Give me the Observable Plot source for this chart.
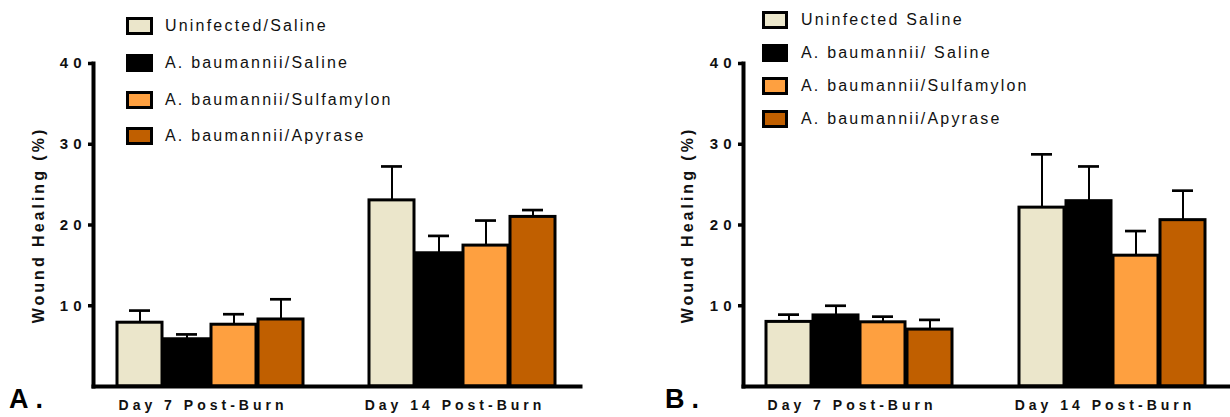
<!DOCTYPE html>
<html>
<head>
<meta charset="utf-8">
<script src="https://cdn.jsdelivr.net/npm/d3@7"></script>
<script src="https://cdn.jsdelivr.net/npm/@observablehq/plot@0.6"></script>
<style>
  body { margin: 0; background: #fff; font-family: "Liberation Sans", Arial, sans-serif; }
  #wrap { position: relative; width: 1230px; height: 417px; overflow: hidden; background: #fff; }
  .panel { position: absolute; top: 0; height: 417px; }
  .panel svg { font-family: "Liberation Sans", Arial, sans-serif; overflow: visible; }
  g[aria-label="y-axis tick label"] text { font-size: 15px; font-weight: bold; letter-spacing: 5px; fill: #111; }
  g[aria-label="y-axis label"] text { font-size: 16px; font-weight: bold; letter-spacing: 3px; fill: #111; }
  g[aria-label="fx-axis tick label"] text { font-size: 14px; font-weight: bold; letter-spacing: 4px; fill: #111; }
  .item { position: absolute; display: flex; align-items: center; white-space: nowrap; height: 18px; }
  .sw { box-sizing: border-box; border: 3px solid #000; height: 18px; }
  .lbl { font-size: 16px; letter-spacing: 2.2px; color: #111; line-height: 18px; }
  .tag { position: absolute; font-weight: bold; font-size: 27px; letter-spacing: 7px; line-height: 27px; color: #000; }
</style>
</head>
<body>
<div id="wrap"></div>
<script>
// ---- data ----
const groups = ["Day 7 Post-Burn", "Day 14 Post-Burn"];
const seriesA = ["Uninfected/Saline", "A. baumannii/Saline", "A. baumannii/Sulfamylon", "A. baumannii/Apyrase"];
const seriesB = ["Uninfected Saline", "A. baumannii/ Saline", "A. baumannii/Sulfamylon", "A. baumannii/Apyrase"];
const colors = ["#ebe6cb", "#000000", "#fea040", "#c05f00"];

const meanA7  = [7.9, 5.85, 7.65, 8.3];
const errA7   = [1.5, 0.6, 1.3, 2.5];
const meanA14 = [23.05, 16.5, 17.45, 21.0];
const errA14  = [4.2, 2.15, 3.1, 0.85];

const meanB7  = [8.0, 8.8, 7.95, 7.05];
const errB7   = [0.9, 1.2, 0.7, 1.2];
const meanB14 = [22.15, 22.95, 16.2, 20.6];
const errB14  = [6.6, 4.3, 3.05, 3.65];

const yTicks = [10, 20, 30, 40];

function rows(series, m7, e7, m14, e14) {
  const out = [];
  [[m7, e7], [m14, e14]].forEach(([m, e], gi) =>
    m.forEach((v, i) => out.push({group: groups[gi], series: series[i], value: v, err: e[i]})));
  return out;
}

function panel({series, data, width, marginLeft, marginRight, pIn, xOuter, labelOffset, labelDx}) {
  return Plot.plot({
    width, height: 417,
    marginLeft, marginRight, marginTop: 63, marginBottom: 31,
    fx: {domain: groups, paddingInner: pIn, paddingOuter: 0, label: null, axis: null},
    x: {domain: series, axis: null, paddingInner: 0.04, paddingOuter: xOuter},
    y: {domain: [0, 40], axis: null},
    color: {domain: series, range: colors},
    marks: [
      Plot.ruleX(data, {fx: "group", x: "series", y1: "value", y2: d => d.value + d.err, stroke: "#000", strokeWidth: 2}),
      Plot.tickY(data, {fx: "group", x: "series", y: d => d.value + d.err, stroke: "#000", strokeWidth: 2.7, insetLeft: 12, insetRight: 12}),
      Plot.barY(data, {fx: "group", x: "series", y: "value", fill: "series", stroke: "#000", strokeWidth: 3}),
      Plot.axisY(yTicks, {tickSize: 5, tickPadding: 2, strokeWidth: 3.5, label: "Wound Healing (%)", labelAnchor: "center", labelOffset, labelArrow: "none"}),
      Plot.axisFx({anchor: "bottom", tickSize: 0, tickPadding: 14, label: null, dx: labelDx}),
      Plot.frame({anchor: "left", facet: "super", stroke: "#000", strokeWidth: 4}),
      Plot.frame({anchor: "bottom", facet: "super", stroke: "#000", strokeWidth: 4})
    ]
  });
}

const wrap = document.getElementById("wrap");

function addPanel(left, width, opts) {
  const div = document.createElement("div");
  div.className = "panel";
  div.style.left = left + "px";
  div.style.width = width + "px";
  div.appendChild(panel({...opts, width}));
  wrap.appendChild(div);
}

addPanel(0, 615, {series: seriesA, data: rows(seriesA, meanA7, errA7, meanA14, errA14),
  marginLeft: 93, marginRight: 35, pIn: 0.0675, xOuter: 0.51, labelOffset: 61, labelDx: -8});
addPanel(615, 615, {series: seriesB, data: rows(seriesB, meanB7, errB7, meanB14, errB14),
  marginLeft: 127, marginRight: 0, pIn: 0.0787, xOuter: 0.473, labelOffset: 62, labelDx: -8});

function addLegend(series, x, y0, step, swW) {
  series.forEach((s, i) => {
    const item = document.createElement("div");
    item.className = "item";
    item.style.left = x + "px";
    item.style.top = (y0 + i * step - 9) + "px";
    const sw = document.createElement("div");
    sw.className = "sw";
    sw.style.width = swW + "px";
    sw.style.background = colors[i];
    const lbl = document.createElement("div");
    lbl.className = "lbl";
    lbl.style.marginLeft = (165 - 126 - swW) + "px";
    lbl.textContent = s;
    item.appendChild(sw);
    item.appendChild(lbl);
    wrap.appendChild(item);
  });
}
addLegend(seriesA, 126, 26, 36.8, 27);
addLegend(seriesB, 762, 20, 33, 26);

function addTag(text, x, y) {
  const t = document.createElement("div");
  t.className = "tag";
  t.style.left = x + "px";
  t.style.top = y + "px";
  t.textContent = text;
  wrap.appendChild(t);
}
addTag("A.", 9, 386);
addTag("B.", 665, 386);
</script>
</body>
</html>
